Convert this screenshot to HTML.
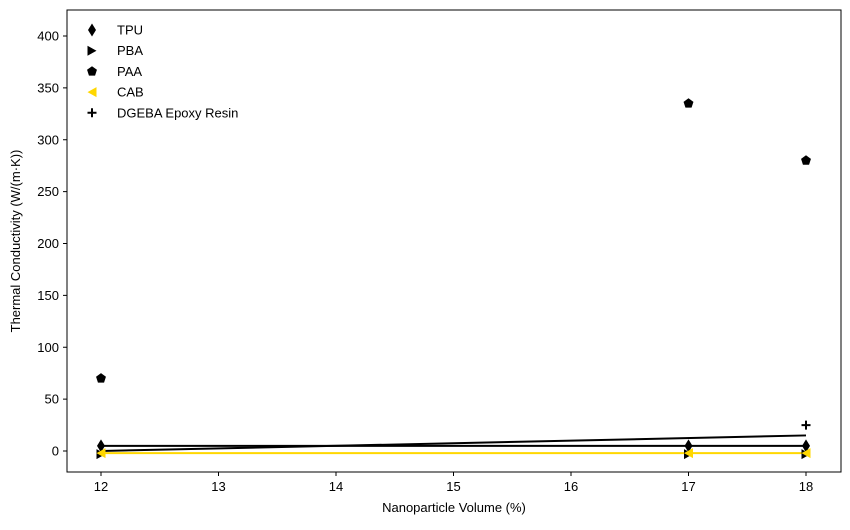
<!DOCTYPE html>
<html><head><meta charset="utf-8"><style>
body{margin:0;background:#fff;font-family:"Liberation Sans",sans-serif}
</style></head><body>
<svg id="c" width="850" height="525" xmlns="http://www.w3.org/2000/svg"></svg>
<script>
const xs=[12,17,18];
const tpu=[5,5,5];
const pba=[-3,-3,-3];
const paa=[70,335,280];
const cab=[-2,-2,-2];
const dgebaX=[18];
const dgeba=[25];
const trendX=[12,18];
const trendA=[5,5];
const trendB=[0,15];
const trendCab=[-2,-2];
const xTicks=[12,13,14,15,16,17,18];
const yTicks=[0,50,100,150,200,250,300,350,400];
const L=67,R=841,T=10,B=472;
const X=v=>101+(v-12)*117.5;
const Y=v=>451-v*1.0375;
const s=document.getElementById('c'),NS='http://www.w3.org/2000/svg';
function el(t,a,p){const e=document.createElementNS(NS,t);for(const k in a)e.setAttribute(k,a[k]);(p||s).appendChild(e);return e;}
let fr=el('rect',{x:L,y:T,width:R-L,height:B-T,fill:'none',stroke:'#000','stroke-width':1});


xTicks.forEach(v=>{const g=el('g',{});
el('line',{x1:X(v),x2:X(v),y1:B,y2:B+4,stroke:'#000'},g);
const t=el('text',{x:X(v),y:B+19,'font-size':13,'text-anchor':'middle'},g);t.textContent=v;});
yTicks.forEach(v=>{const g=el('g',{});
el('line',{x1:L-4,x2:L,y1:Y(v),y2:Y(v),stroke:'#000'},g);
const t=el('text',{x:L-8,y:Y(v)+4.5,'font-size':13,'text-anchor':'end'},g);t.textContent=v;});
let xt=el('text',{x:454,y:512,'font-size':13,'text-anchor':'middle'});xt.textContent='Nanoparticle Volume (%)';

let yt=el('text',{x:20,y:241,'font-size':13,'text-anchor':'middle',transform:'rotate(-90 20 241)'});yt.textContent='Thermal Conductivity (W/(m·K))';

function line(xa,ya,col,name){const p=el('polyline',{points:xa.map((x,i)=>X(x)+','+Y(ya[i])).join(' '),fill:'none',stroke:col,'stroke-width':2});
}
line(trendX,trendA,'#000','trend-line-a');
line(trendX,trendB,'#000','trend-line-b');
line(trendX,trendCab,'#ffd700','trend-line-cab');
const mk={
diamond:(x,y)=>`M${x},${y-6.5}L${x+4},${y}L${x},${y+6.5}L${x-4},${y}Z`,
right:(x,y)=>`M${x-4.5},${y-5}L${x+4.5},${y}L${x-4.5},${y+5}Z`,
left:(x,y)=>`M${x+4.5},${y-5}L${x-4.5},${y}L${x+4.5},${y+5}Z`,
pent:(x,y)=>{let d='';for(let i=0;i<5;i++){const a=-Math.PI/2+i*2*Math.PI/5;d+=(i?'L':'M')+(x+5.2*Math.cos(a))+','+(y+5.2*Math.sin(a));}return d+'Z';}
};
function marks(xa,ya,shape,col,name){xa.forEach((x,i)=>{let p;
if(shape==='plus')p=el('path',{d:`M${X(x)-4.5},${Y(ya[i])}H${X(x)+4.5}M${X(x)},${Y(ya[i])-4.5}V${Y(ya[i])+4.5}`,stroke:col,'stroke-width':2,fill:'none'});
else p=el('path',{d:mk[shape](X(x),Y(ya[i])),fill:col});
});}
marks(xs,tpu,'diamond','#000','tpu-point');
marks(xs,pba,'right','#000','pba-point');
marks(xs,paa,'pent','#000','paa-point');
marks(xs,cab,'left','#ffd700','cab-point');
marks(dgebaX,dgeba,'plus','#000','dgeba-point');
const leg=[['TPU','diamond','#000'],['PBA','right','#000'],['PAA','pent','#000'],['CAB','left','#ffd700'],['DGEBA Epoxy Resin','plus','#000']];
leg.forEach((l,i)=>{const y=30+i*20.7,x=92;const g=el('g',{});
if(l[1]==='plus')el('path',{d:`M${x-4.5},${y}H${x+4.5}M${x},${y-4.5}V${y+4.5}`,stroke:l[2],'stroke-width':2},g);
else el('path',{d:mk[l[1]](x,y),fill:l[2]},g);
const t=el('text',{x:117,y:y+4.5,'font-size':13},g);t.textContent=l[0];});
</script>
</body></html>
